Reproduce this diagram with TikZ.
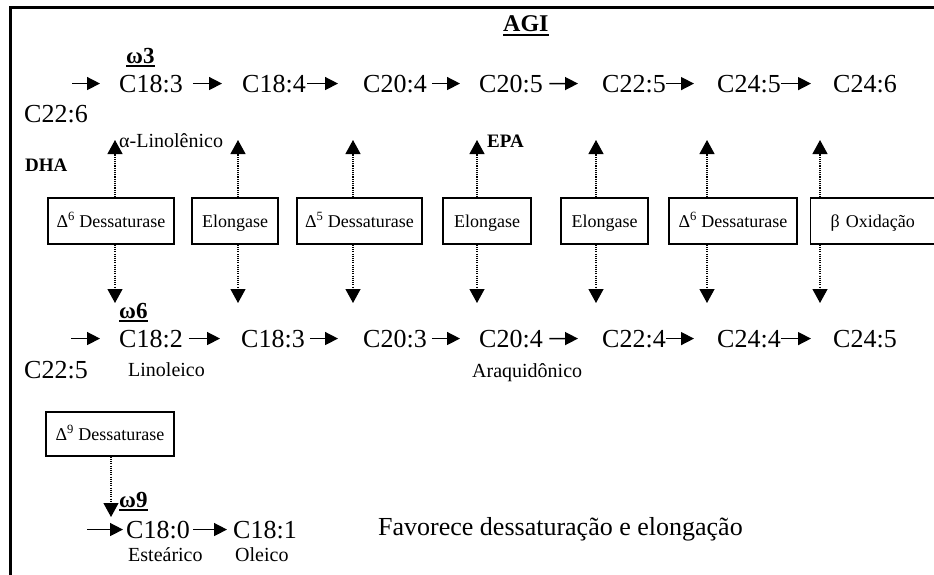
\documentclass[tikz,border=0pt]{standalone}
\usepackage{fontspec}
\setmainfont{Liberation Serif}
\usetikzlibrary{arrows.meta}

\begin{document}
\begin{tikzpicture}[x=1pt, y=-1pt,
  lbl/.style={inner sep=0pt, anchor=base west},
  acid/.style={lbl, font=\fontsize{26}{30}\selectfont},
  trivial/.style={lbl, font=\fontsize{20}{24}\selectfont},
  tag/.style={lbl, font=\fontsize{19}{23}\selectfont\bfseries},
  series/.style={lbl, font=\fontsize{23}{27}\selectfont\bfseries},
  enzyme/.style={draw, line width=1.4pt, inner sep=0pt, minimum height=46pt,
                 text height=15pt, text depth=3pt,
                 font=\fontsize{18}{22}\selectfont},
  flow/.style={line width=1.5pt, -{Triangle[length=13pt,width=13pt]}},
  feed/.style={line width=1.2pt, dash pattern=on 1.1pt off 1.1pt,
               -{Triangle[length=14pt,width=15pt]}},
  uline/.style={line width=2pt},
]
\useasboundingbox (0,0) rectangle (934,574);
\clip (0,0) rectangle (934,574);

% frame
\draw[line width=3pt] (10,580) -- (10,7) -- (940,7);

% title
\node[lbl, font=\fontsize{24}{28}\selectfont\bfseries] (agi) at (503,31) {AGI};
\draw[uline] ([yshift=-3.5pt]agi.base west) -- ([yshift=-3.5pt]agi.base east);

% ---------- omega-3 series ----------
\node[series] (w3) at (126,63) {ω3};
\draw[uline] ([yshift=-3pt]w3.base west) -- ([yshift=-3pt]w3.base east);

\node[acid] (t1) at (119,92) {C18:3};
\node[acid] (t2) at (242,92) {C18:4};
\node[acid] (t3) at (363,92) {C20:4};
\node[acid] (t4) at (479,92) {C20:5};
\node[acid] (t5) at (602,92) {C22:5};
\node[acid] (t6) at (717,92) {C24:5};
\node[acid] (t7) at (833,92) {C24:6};
\node[acid] (t8) at (24,122) {C22:6};

\coordinate (t0) at (72,0 |- t1);
\draw[flow, shorten >=19pt] (t0) -- (t1);
\draw[flow, shorten <=10pt, shorten >=20pt] (t1) -- (t2);
\draw[flow, shorten <=1.5pt, shorten >=25pt] (t2) -- (t3);
\draw[flow, shorten <=5pt, shorten >=19pt] (t3) -- (t4);
\draw[flow, shorten <=6.5pt, shorten >=24pt] (t4) -- (t5);
\draw[flow, shorten >=23pt] (t5) -- (t6);
\draw[flow, shorten >=22pt] (t6) -- (t7);

\node[trivial] (ala) at (119,147) {α-Linolênico};
\node[tag] (dha) at (25,171) {DHA};
\node[tag] (epa) at (487,147) {EPA};

% ---------- enzymes ----------
\node[enzyme, minimum width=126pt] (e1) at (111,221) {Δ\textsuperscript{6} Dessaturase};
\node[enzyme, minimum width=86pt]  (e2) at (235,221) {Elongase};
\node[enzyme, minimum width=125pt] (e3) at (359.5,221) {Δ\textsuperscript{5} Dessaturase};
\node[enzyme, minimum width=88pt]  (e4) at (487,221) {Elongase};
\node[enzyme, minimum width=87pt]  (e5) at (604.5,221) {Elongase};
\node[enzyme, minimum width=128pt] (e6) at (733,221) {Δ\textsuperscript{6} Dessaturase};
\node[enzyme, anchor=west, text width=120pt, align=left, inner xsep=20pt] (e7) at (810,221) {β Oxidação};

\foreach \i/\x in {1/115, 2/238, 3/353, 4/477, 5/596, 6/707, 7/820} {
  \coordinate (u\i) at (\x,140);
  \coordinate (d\i) at (\x,303);
  \draw[feed] (e\i.north -| u\i) -- (u\i);
  \draw[feed] (e\i.south -| d\i) -- (d\i);
}

% ---------- omega-6 series ----------
\node[series] (w6) at (119,318) {ω6};
\draw[uline] ([yshift=-3pt]w6.base west) -- ([yshift=-3pt]w6.base east);

\node[acid] (m1) at (119,347) {C18:2};
\node[acid] (m2) at (241,347) {C18:3};
\node[acid] (m3) at (363,347) {C20:3};
\node[acid] (m4) at (479,347) {C20:4};
\node[acid] (m5) at (602,347) {C22:4};
\node[acid] (m6) at (717,347) {C24:4};
\node[acid] (m7) at (833,347) {C24:5};
\node[acid] (m8) at (24,378) {C22:5};

\coordinate (m0) at (71,0 |- m1);
\draw[flow, shorten >=19pt] (m0) -- (m1);
\draw[flow, shorten <=6pt, shorten >=21pt] (m1) -- (m2);
\draw[flow, shorten <=5pt, shorten >=25pt] (m2) -- (m3);
\draw[flow, shorten <=5pt, shorten >=19pt] (m3) -- (m4);
\draw[flow, shorten <=6.5pt, shorten >=24pt] (m4) -- (m5);
\draw[flow, shorten >=23pt] (m5) -- (m6);
\draw[flow, shorten >=22pt] (m6) -- (m7);

\node[trivial] (lin) at (128,376) {Linoleico};
\node[trivial] (ara) at (472,377) {Araquidônico};

% ---------- omega-9 series ----------
\node[enzyme, minimum width=128pt, minimum height=44pt] (e9) at (110,434) {Δ\textsuperscript{9} Dessaturase};
\coordinate (d9) at (111,517);
\draw[feed] (e9.south -| d9) -- (d9);

\node[series] (w9) at (119,507) {ω9};
\draw[uline] ([yshift=-3pt]w9.base west) -- ([yshift=-3pt]w9.base east);

\node[acid] (b1) at (126,538) {C18:0};
\node[acid] (b2) at (233,538) {C18:1};
\coordinate (b0) at (87,0 |- b1);
\draw[flow, shorten >=3pt] (b0) -- (b1);
\draw[flow, shorten <=3.5pt, shorten >=6pt] (b1) -- (b2);

\node[trivial] (est) at (128,561) {Esteárico};
\node[trivial] (ole) at (235,561) {Oleico};

\node[acid] (note) at (378,535) {Favorece dessaturação e elongação};
\end{tikzpicture}
\end{document}
